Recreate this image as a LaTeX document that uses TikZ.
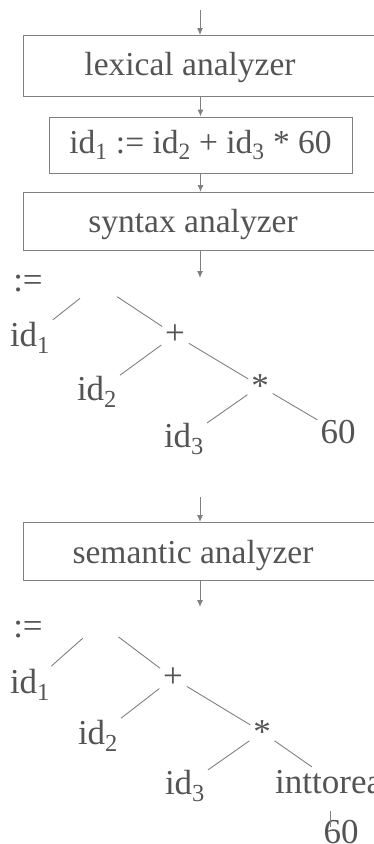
\documentclass[tikz,border=0pt]{standalone}
\usepackage{fontspec}
\setmainfont{Liberation Serif}
\usetikzlibrary{arrows.meta}

\definecolor{ink}{gray}{0.33}
\definecolor{rulegray}{gray}{0.5}

\begin{document}
\begin{tikzpicture}[
  x=1pt, y=1pt,
  >={Latex[length=7pt,width=6pt]},
  stage/.style={draw=rulegray,line width=1pt,inner sep=0pt},
  boxtext/.style={text=ink,font=\fontsize{33.5}{38}\selectfont,inner sep=0pt},
  leaf/.style={text=ink,font=\fontsize{35}{40}\selectfont,inner sep=2pt},
  flow/.style={->,draw=rulegray,line width=1pt},
  edge/.style={draw=rulegray,line width=0.9pt,shorten <=2pt,shorten >=1pt},
  rootedge/.style={edge,shorten <=23pt}
]
  \clip (0,0) rectangle (374,-844);

  \coordinate (src) at (200,-10);
  \node[stage,anchor=north west,minimum width=380pt,minimum height=61pt] (lex) at (23,-35) {};
  \node[boxtext] (lextext) at (190,-67) {lexical analyzer};
  \node[stage,boxtext,minimum width=303pt,minimum height=56pt] (code) at (200.5,-145)
    {id\textsubscript{1} := id\textsubscript{2} + id\textsubscript{3} * 60};
  \node[stage,anchor=north west,minimum width=380pt,minimum height=58pt] (syn) at (23,-192) {};
  \node[boxtext] (syntext) at (193,-224) {syntax analyzer};
  \coordinate (out1) at (200,-278);

  \draw[flow] (src) -- (src |- lex.north);
  \draw[flow] (lex.south -| code) -- (code.north);
  \draw[flow] (code.south) -- (code |- syn.north);
  \draw[flow] (syn.south -| out1) -- (out1);

  \node[leaf] (asg1) at (28,-284) {:=};
  \coordinate (top1) at (98,-284);
  \node[leaf] (ida1) at (30,-338) {id\textsubscript{1}};
  \node[leaf] (plus1) at (175,-335) {+};
  \node[leaf] (ida2) at (97,-392) {id\textsubscript{2}};
  \node[leaf] (star1) at (260,-386) {*};
  \node[leaf] (ida3) at (184,-439) {id\textsubscript{3}};
  \node[leaf] (sixty1) at (338,-432) {60};

  \draw[rootedge] (top1) -- (ida1);
  \draw[rootedge] (top1) -- (plus1);
  \draw[edge] (plus1) -- (ida2);
  \draw[edge] (plus1) -- (star1);
  \draw[edge] (star1) -- (ida3);
  \draw[edge] (star1) -- (sixty1);

  \coordinate (in2) at (200,-497);
  \node[stage,anchor=north west,minimum width=380pt,minimum height=58pt] (sem) at (23,-522) {};
  \node[boxtext] (semtext) at (193,-555) {semantic analyzer};
  \coordinate (out2) at (200,-607);

  \draw[flow] (in2) -- (in2 |- sem.north);
  \draw[flow] (sem.south -| out2) -- (out2);

  \node[leaf] (asg2) at (28,-630) {:=};
  \coordinate (top2) at (100,-623);
  \node[leaf] (idb1) at (30,-685) {id\textsubscript{1}};
  \node[leaf] (plus2) at (173,-678) {+};
  \node[leaf] (idb2) at (98,-736) {id\textsubscript{2}};
  \node[leaf] (star2) at (262,-732) {*};
  \node[leaf] (idb3) at (185,-786) {id\textsubscript{3}};
  \node[leaf,anchor=west] (conv) at (273,-782) {inttoreal};
  \node[leaf] (sixty2) at (341,-832) {60};

  \draw[rootedge] (top2) -- (idb1);
  \draw[rootedge] (top2) -- (plus2);
  \draw[edge] (plus2) -- (idb2);
  \draw[edge] (plus2) -- (star2);
  \draw[edge] (star2) -- (idb3);
  \draw[edge] (star2) -- (conv);
  \draw[draw=rulegray,line width=0.9pt] ([xshift=-11pt,yshift=-9pt]sixty2.north) -- ++(0,16);
\end{tikzpicture}
\end{document}
